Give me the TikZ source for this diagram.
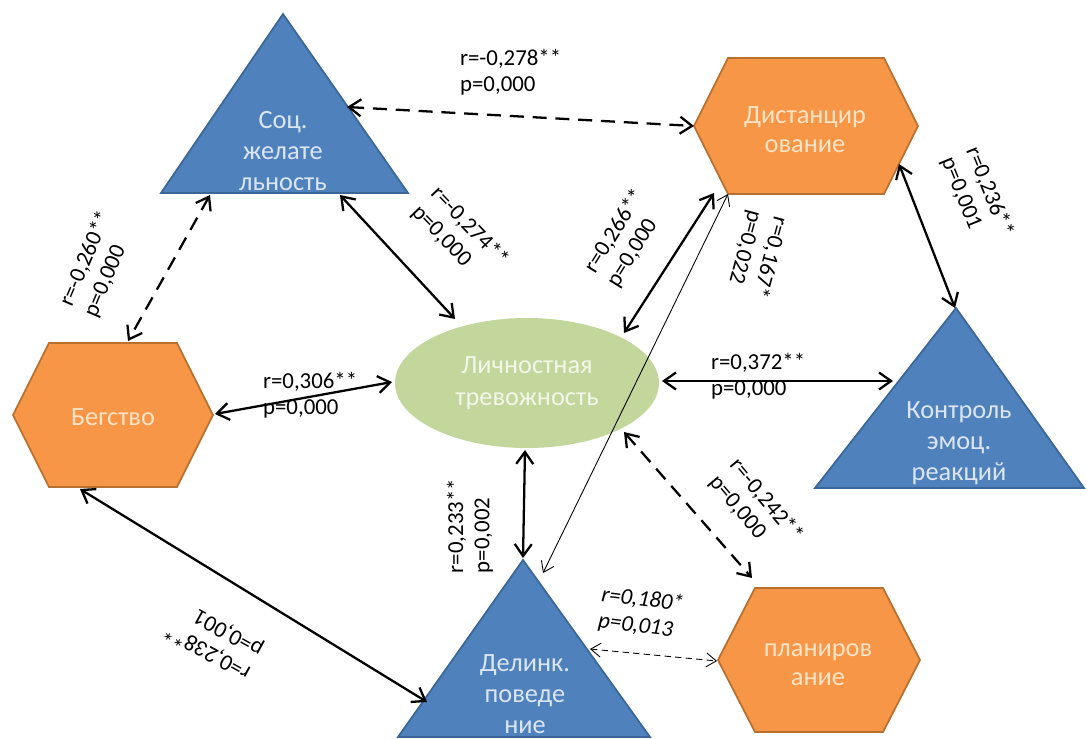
\documentclass[tikz,border=0pt]{standalone}
\usepackage{fontspec}
\setmainfont{Carlito}
\usetikzlibrary{arrows.meta,shapes.geometric}
\definecolor{triblue}{HTML}{4F81BD}
\definecolor{triedge}{HTML}{3A6798}
\definecolor{trifont}{HTML}{DCE6F2}
\definecolor{hexorange}{HTML}{F79646}
\definecolor{hexedge}{HTML}{B7702F}
\definecolor{hexfont}{HTML}{FDE4C6}
\definecolor{ellgreen}{HTML}{C3D69B}
\definecolor{ellfont}{HTML}{F3F7EA}

\begin{document}
\begin{tikzpicture}[x=0.02cm,y=-0.02cm,
    tri/.style = {fill=triblue,draw=triedge,line width=1pt},
    hexa/.style = {fill=hexorange,draw=hexedge,line width=1pt},
    tritext/.style = {text=trifont,align=center,font=\fontsize{15}{17.5}\selectfont},
    hextext/.style = {text=hexfont,align=center,font=\fontsize{15}{16.5}\selectfont},
    link/.style = {line width=1.3pt,>={Straight Barb[length=2.4mm,width=3.4mm]},<->},
    dashlink/.style = {link,dash pattern=on 8pt off 5pt},
    thinlink/.style = {line width=0.5pt,>={Straight Barb[length=2mm,width=2.8mm]},<->},
    thindash/.style = {thinlink,dash pattern=on 3.5pt off 2.5pt},
    lbl/.style = {align=left,inner sep=1pt,font=\fontsize{13}{15}\selectfont}]
\useasboundingbox[fill=white] (0,0) rectangle (1086,738);

% shapes
\draw[tri] (283,14) -- (408,193) -- (161,193) -- cycle;
\draw[tri] (956,308) -- (1084,488) -- (815,488) -- cycle;
\draw[tri] (523,560) -- (650,737) -- (398,737) -- cycle;
\foreach \cx/\cy/\hw/\tw/\hh in {113/415/100/64/72, 806/126/112/78/68, 819/660/101/64/72}
    \draw[hexa] (\cx-\hw,\cy) -- (\cx-\tw,\cy-\hh) -- (\cx+\tw,\cy-\hh) -- (\cx+\hw,\cy)
        -- (\cx+\tw,\cy+\hh) -- (\cx-\tw,\cy+\hh) -- cycle;
\node[ellipse,fill=ellgreen,minimum width=5.28cm,minimum height=2.6cm,text=ellfont,align=center,
      font=\fontsize{15}{18}\selectfont] (lt) at (527,383) {Личностная\\тревожность};

\node[tritext] (soc) at (283,151) {Соц.\\желате\\льность};
\node[tritext] (kontr) at (959,443) {Контроль\\эмоц.\\реакций};
\node[tritext] (delink) at (525,694) {Делинк.\\поведе\\ние};
\node[hextext] (beg) at (113,417) {Бегство};
\node[hextext] (dist) at (805,130) {Дистанцир\\ование};
\node[hextext] (plan) at (818,665) {планиров\\ание};

% connector ends
\coordinate (soc-dist) at (347,107);   \coordinate (dist-soc) at (694,126);
\coordinate (soc-beg) at (210,195);    \coordinate (beg-soc) at (128,341);
\coordinate (soc-lt) at (340,195);     \coordinate (lt-soc) at (455,319);
\coordinate (beg-lt) at (215,414);     \coordinate (lt-beg) at (392,382);
\coordinate (beg-del) at (80,489);     \coordinate (del-beg) at (427,702);
\coordinate (lt-del) at (525,450);     \coordinate (del-lt) at (523,558);
\coordinate (lt-dist) at (624,333);    \coordinate (dist-lt) at (714,193);
\coordinate (del-dist) at (543,573);   \coordinate (dist-del) at (728,194);
\coordinate (dist-kon) at (899,164);   \coordinate (kon-dist) at (955,308);
\coordinate (lt-kon) at (662,381);     \coordinate (kon-lt) at (893,381);
\coordinate (lt-plan) at (624,432);    \coordinate (plan-lt) at (752,578);
\coordinate (del-plan) at (590,649);   \coordinate (plan-del) at (717,661);

\draw[dashlink] (soc-dist) -- (dist-soc);
\draw[dashlink] (soc-beg) -- (beg-soc);
\draw[link] (soc-lt) -- (lt-soc);
\draw[link] (beg-lt) -- (lt-beg);
\draw[link] (beg-del) -- (del-beg);
\draw[link] (lt-del) -- (del-lt);
\draw[link] (lt-dist) -- (dist-lt);
\draw[thinlink] (del-dist) -- (dist-del);
\draw[link] (dist-kon) -- (kon-dist);
\draw[link] (lt-kon) -- (kon-lt);
\draw[dashlink] (lt-plan) -- (plan-lt);
\draw[thindash] (del-plan) -- (plan-del);

% labels
\node[lbl,anchor=west] (r1) at (458,72) {r=-0,278**\\p=0,000};
\node[lbl,rotate=67] (r2) at (98,264) {r=-0,260**\\p=0,000};
\node[lbl,rotate=-46] (r3) at (460,236) {r=-0,274**\\p=0,000};
\node[lbl,anchor=west] (r4) at (261,395) {r=0,306**\\p=0,000};
\node[lbl,rotate=151] (r5) at (214,640) {r=0,238**\\p=0,001};
\node[lbl,rotate=90] (r6) at (470,526) {r=0,233**\\p=0,002};
\node[lbl,rotate=58] (r7) at (626,238) {r=0,266**\\p=0,000};
\node[lbl,rotate=-105] (r8) at (757,254) {r=0,167*\\p=0,022};
\node[lbl,rotate=-68] (r9) at (977,197) {r=0,236**\\p=0,001};
\node[lbl,anchor=west] (r10) at (709,376) {r=0,372**\\p=0,000};
\node[lbl,rotate=-50] (r11) at (756,509) {r=-0,242**\\p=0,000};
\node[lbl,rotate=-7,font=\fontsize{13}{15}\selectfont\itshape] (r12) at (641,613) {r=0,180*\\p=0,013};
\end{tikzpicture}
\end{document}
